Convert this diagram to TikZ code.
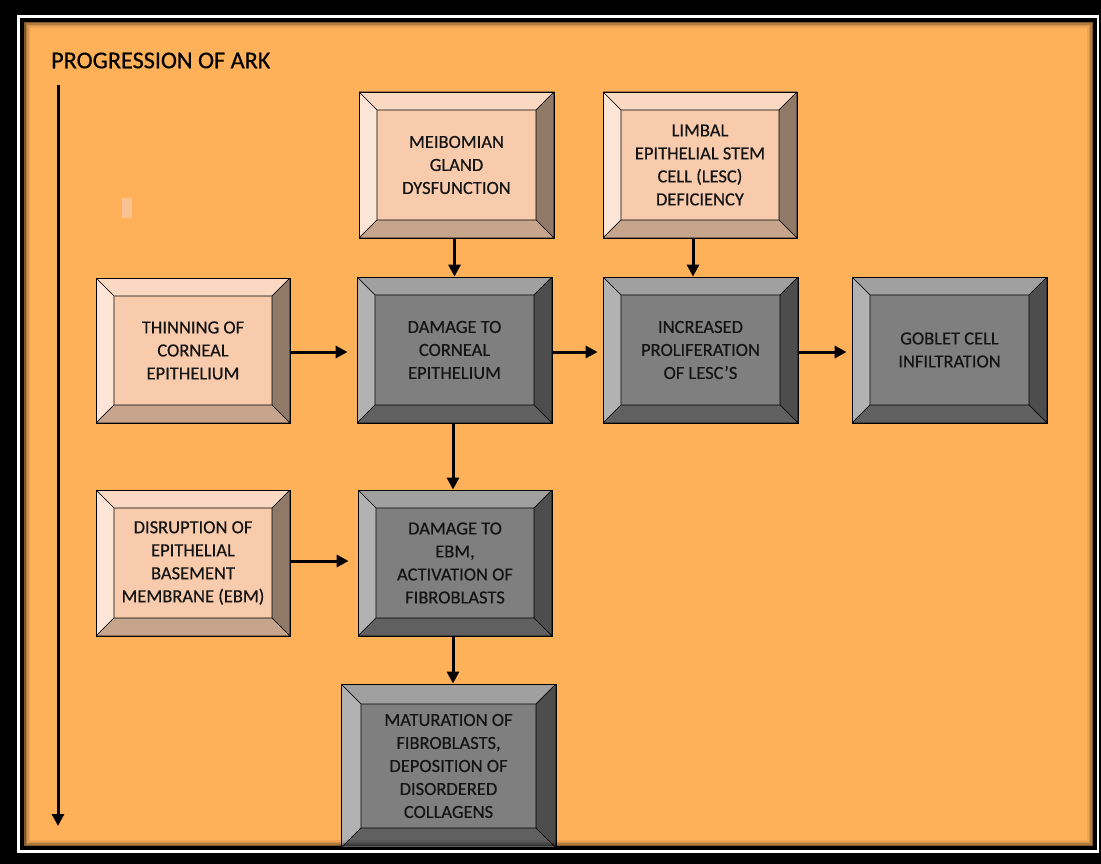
\documentclass[tikz,border=0pt]{standalone}
\usepackage{fontspec}
\setmainfont{Carlito}
\newfontfamily\boxfont{Carlito}[BoldFont=Carlito, BoldFeatures={FakeBold=0.45}]
\usetikzlibrary{arrows.meta}

\definecolor{arkorange}{RGB}{255,177,89}
\definecolor{peachface}{RGB}{248,203,173}
\definecolor{peachtop}{RGB}{250,216,194}
\definecolor{peachleft}{RGB}{252,228,214}
\definecolor{peachright}{RGB}{145,121,104}
\definecolor{peachbottom}{RGB}{198,165,140}
\definecolor{greyface}{RGB}{127,127,127}
\definecolor{greytop}{RGB}{160,160,160}
\definecolor{greyleft}{RGB}{178,178,178}
\definecolor{greyright}{RGB}{77,77,77}
\definecolor{greybottom}{RGB}{96,96,96}

\newcommand{\bevw}{18}
\newcommand{\bevelsides}[4]{%
  \path (path picture bounding box.north west) coordinate (o1)
        (path picture bounding box.north east) coordinate (o2)
        (path picture bounding box.south east) coordinate (o3)
        (path picture bounding box.south west) coordinate (o4)
        ([shift={(\bevw,\bevw)}]o1) coordinate (i1)
        ([shift={(-\bevw,\bevw)}]o2) coordinate (i2)
        ([shift={(-\bevw,-\bevw)}]o3) coordinate (i3)
        ([shift={(\bevw,-\bevw)}]o4) coordinate (i4);
  \filldraw[fill=#1, draw=black, line width=0.6pt] (o1) -- (o2) -- (i2) -- (i1) -- cycle;
  \filldraw[fill=#2, draw=black, line width=0.6pt] (o1) -- (i1) -- (i4) -- (o4) -- cycle;
  \filldraw[fill=#3, draw=black, line width=0.6pt] (o2) -- (o3) -- (i3) -- (i2) -- cycle;
  \filldraw[fill=#4, draw=black, line width=0.6pt] (o4) -- (i4) -- (i3) -- (o3) -- cycle;
}

\tikzset{
  bevel size/.code={\def\bevw{#1}},
  stagebox/.style={rectangle, draw=black, line width=0.8pt, inner sep=0pt, align=center,
    text=black!92, font=\boxfont\bfseries\fontsize{18.5}{23}\selectfont},
  lightbox/.style={stagebox, fill=peachface,
    path picture={\bevelsides{peachtop}{peachleft}{peachright}{peachbottom}}},
  darkbox/.style={stagebox, fill=greyface,
    path picture={\bevelsides{greytop}{greyleft}{greyright}{greybottom}}},
  flow/.style={line width=3pt, -{Triangle[length=12pt,width=12pt]}},
}

\begin{document}
\begin{tikzpicture}[x=1pt,y=-1pt]
    % frame
    \fill[black] (0,0) rectangle (1101,864);
    \draw[white, line width=2.5pt] (18.5,16.5) rectangle (1098,851.5);
    \fill[arkorange] (24,22) rectangle (1093,846);

    \begin{scope}
    \clip (24,22) rectangle (1093,846);

    \fill[peachface!65!arkorange] (122,198) rectangle (132,218);

    \node[font=\boxfont\bfseries\fontsize{24.2}{28}\selectfont, inner sep=0pt, anchor=west, text=black] (title)
        at (51,60.5) {PROGRESSION OF ARK};
    \coordinate (timetop) at (58,85);
    \coordinate (timeend) at (58,826);
    \draw[flow] (timetop) -- (timeend);

    % causes
    \node[lightbox, minimum width=195pt, minimum height=146pt] (meib) at (456.5,165)
        {MEIBOMIAN\\GLAND\\DYSFUNCTION};
    \node[lightbox, minimum width=194pt, minimum height=146pt] (limbal) at (700,165)
        {LIMBAL\\EPITHELIAL STEM\\CELL (LESC)\\DEFICIENCY};
    \node[lightbox, minimum width=194pt, minimum height=145pt] (thin) at (193,350.5)
        {THINNING OF\\CORNEAL\\EPITHELIUM};
    \node[lightbox, minimum width=194pt, minimum height=146pt] (disr) at (193,563)
        {DISRUPTION OF\\EPITHELIAL\\BASEMENT\\MEMBRANE (EBM)};

    % stages
    \node[darkbox, minimum width=195pt, minimum height=146pt] (dmgce) at (454.5,350)
        {DAMAGE TO\\CORNEAL\\EPITHELIUM};
    \node[darkbox, minimum width=195pt, minimum height=146pt] (incr) at (700.5,350)
        {INCREASED\\PROLIFERATION\\OF LESC’S};
    \node[darkbox, minimum width=195pt, minimum height=146pt] (goblet) at (949.5,350)
        {GOBLET CELL\\INFILTRATION};
    \node[darkbox, minimum width=194pt, minimum height=146pt] (dmgebm) at (455,563)
        {DAMAGE TO\\EBM,\\ACTIVATION OF\\FIBROBLASTS};
    \node[darkbox, bevel size=20, minimum width=215pt, minimum height=164pt] (matur) at (448.5,766)
        {MATURATION OF\\FIBROBLASTS,\\DEPOSITION OF\\DISORDERED\\COLLAGENS};

    % arrows
    \draw[flow] (dmgce.north |- meib.south) -- (dmgce.north);
    \draw[flow] ([xshift=-7pt]limbal.south) -- ([xshift=-7pt]limbal.south |- incr.north);
    \draw[flow, shorten >=9pt] (thin.east |- 0,352) -- (dmgce.west |- 0,352);
    \draw[flow, shorten >=5pt] (dmgce.east |- 0,352) -- (incr.west |- 0,352);
    \draw[flow, shorten >=5pt] (incr.east |- 0,352) -- (goblet.west |- 0,352);
    \draw[flow, shorten >=9pt] (disr.east |- 0,561) -- (dmgebm.west |- 0,561);
    \draw[flow] ([xshift=-1.5pt]dmgce.south) -- ([xshift=-1.5pt]dmgce.south |- dmgebm.north);
    \draw[flow] ([xshift=-2pt]dmgebm.south) -- ([xshift=-2pt]dmgebm.south |- matur.north);

    % inner shadow of the frame
    \foreach \i/\o in {0/0.5,1.5/0.3,3/0.16,4.5/0.07}
        \draw[black, opacity=\o, line width=1.5pt] (24.75+\i,22.75+\i) rectangle (1092.25-\i,845.25-\i);
    \end{scope}
\end{tikzpicture}
\end{document}
